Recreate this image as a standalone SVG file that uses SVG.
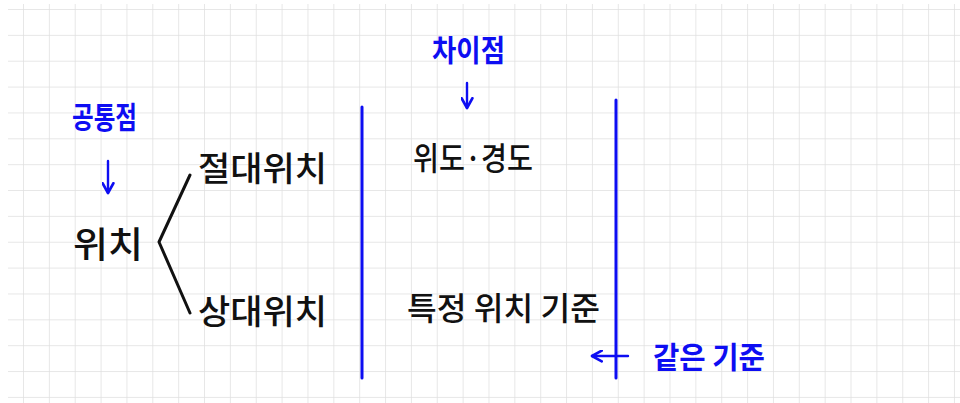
<svg xmlns="http://www.w3.org/2000/svg" width="960" height="403" viewBox="0 0 960 403">
<defs>
<pattern id="grid" x="23" y="9" width="25.86" height="25.86" patternUnits="userSpaceOnUse">
<path d="M0 0 V25.86 M0 0 H25.86" fill="none" stroke="#e0e0e0" stroke-width="1.5"/>
</pattern>
<marker id="ah" viewBox="0 0 12 12" refX="10" refY="6" markerWidth="13" markerHeight="13" markerUnits="userSpaceOnUse" orient="auto">
<path d="M1 1 L10 6 L1 11" fill="none" stroke="#0d0df2" stroke-width="2.4" stroke-linecap="round" stroke-linejoin="round"/>
</marker>
<style>
.t{font-family:"Noto Sans CJK KR","Noto Sans",sans-serif;fill:#111;font-weight:500}
.b{font-family:"Noto Sans CJK KR","Noto Sans",sans-serif;fill:#0d0df2;font-weight:700}
.bl{stroke:#0d0df2;stroke-width:3;fill:none;stroke-linecap:round}
.ar{stroke:#0d0df2;stroke-width:2.4;fill:none;stroke-linecap:round}
.br{stroke:#111;stroke-width:3;fill:none;stroke-linecap:round;stroke-linejoin:round}
</style>
</defs>
<rect width="960" height="403" fill="#fff"/>
<rect x="8" y="4" width="952" height="399" fill="url(#grid)"/>
<g id="connectors">
<path class="br" d="M190 175 L159 242 L190 313"/>
<line class="ar" x1="108" y1="161" x2="108" y2="193" marker-end="url(#ah)"/>
<line class="ar" x1="467" y1="83" x2="467" y2="108" marker-end="url(#ah)"/>
<line class="ar" x1="628" y1="356" x2="592" y2="356" marker-end="url(#ah)"/>
<line class="bl" x1="362" y1="107" x2="362" y2="378"/>
<line class="bl" x1="616" y1="100" x2="616" y2="378"/>
</g>
<g id="n-gongtong"><text class="b" x="72" y="128" font-size="30" textLength="65" lengthAdjust="spacingAndGlyphs">공통점</text></g>
<g id="n-wichi"><text class="t" x="73" y="258" font-size="36" textLength="70" lengthAdjust="spacingAndGlyphs">위치</text></g>
<g id="n-jeoldae"><text class="t" x="198" y="181" font-size="34" textLength="129" lengthAdjust="spacingAndGlyphs">절대위치</text></g>
<g id="n-sangdae"><text class="t" x="198" y="324" font-size="34" textLength="129" lengthAdjust="spacingAndGlyphs">상대위치</text></g>
<g id="n-chai"><text class="b" x="432" y="61" font-size="30" textLength="73" lengthAdjust="spacingAndGlyphs">차이점</text></g>
<g id="n-wido"><text class="t" x="413" y="170" font-size="32" textLength="120" lengthAdjust="spacingAndGlyphs">위도·경도</text></g>
<g id="n-teukjeong"><text class="t" x="407" y="320" font-size="32" textLength="193" lengthAdjust="spacingAndGlyphs">특정 위치 기준</text></g>
<g id="n-gateun"><text class="b" x="653" y="368" font-size="30" textLength="112" lengthAdjust="spacingAndGlyphs">같은 기준</text></g>
</svg>
